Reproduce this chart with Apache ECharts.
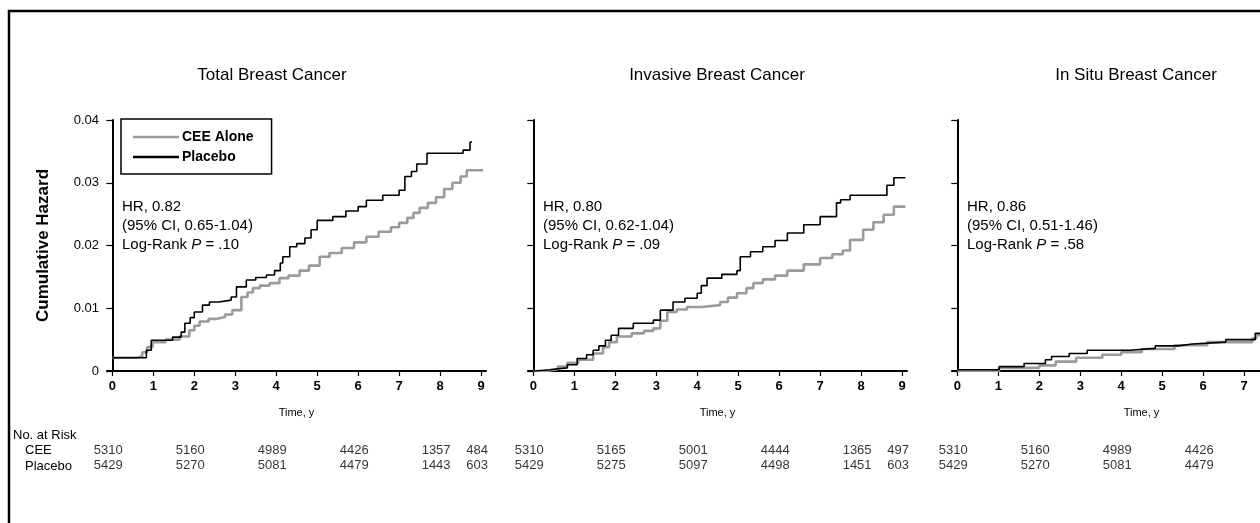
<!DOCTYPE html>
<html>
<head>
<meta charset="utf-8">
<script src="https://cdn.jsdelivr.net/npm/echarts@6/dist/echarts.min.js"></script>
<style>
html,body{margin:0;padding:0;background:#fff;overflow:hidden;width:1260px;height:523px;}
#chart{width:1340px;height:523px;}
</style>
</head>
<body>
<div id="chart"></div>
<script>
// ---------- DATA ----------
const panelTitles = ['Total Breast Cancer', 'Invasive Breast Cancer', 'In Situ Breast Cancer'];
const seriesNames = ['CEE Alone', 'Placebo'];
const xTickValues = [0, 1, 2, 3, 4, 5, 6, 7, 8, 9];
const yTickValues = [0, 0.01, 0.02, 0.03, 0.04];
const hrText = ['HR, 0.82', 'HR, 0.80', 'HR, 0.86'];
const ciText = ['(95% CI, 0.65-1.04)', '(95% CI, 0.62-1.04)', '(95% CI, 0.51-1.46)'];
const pText = ['.10', '.09', '.58'];

// cumulative hazard step points [year, hazard]
const totalCEE = [[0,0.0021],[0.58,0.0023],[0.73,0.003],[0.85,0.0038],[0.98,0.0046],[1.3,0.005],[1.64,0.0055],[1.88,0.0065],[2.0,0.0072],[2.13,0.0079],[2.35,0.0083],[2.53,0.0086],[2.75,0.009],[2.93,0.0097],[3.15,0.0118],[3.3,0.0125],[3.43,0.0132],[3.6,0.0136],[3.84,0.014],[4.08,0.0148],[4.3,0.0152],[4.57,0.016],[4.8,0.0168],[5.06,0.0182],[5.3,0.0188],[5.6,0.0196],[5.9,0.0205],[6.2,0.0214],[6.5,0.0222],[6.8,0.0229],[7.0,0.0236],[7.2,0.0244],[7.35,0.0252],[7.5,0.026],[7.7,0.0268],[7.9,0.0277],[8.1,0.029],[8.3,0.03],[8.5,0.031],[8.65,0.032],[9.05,0.032]];
const totalPlacebo = [[0,0.0021],[0.83,0.0033],[0.95,0.0049],[1.47,0.0054],[1.68,0.0062],[1.77,0.0076],[1.9,0.0085],[2.0,0.0094],[2.2,0.0105],[2.37,0.011],[2.6,0.0113],[2.9,0.0118],[3.03,0.0134],[3.27,0.0145],[3.5,0.0149],[3.76,0.0153],[3.96,0.016],[4.1,0.0172],[4.16,0.0182],[4.33,0.0198],[4.5,0.0203],[4.7,0.0212],[4.85,0.0225],[5.0,0.024],[5.38,0.0246],[5.7,0.0255],[6.0,0.0262],[6.2,0.0272],[6.6,0.028],[7.0,0.0288],[7.14,0.031],[7.3,0.0318],[7.43,0.033],[7.68,0.0347],[8.56,0.0352],[8.73,0.0365],[8.78,0.0365]];
const invasiveCEE = [[0,0],[0.3,0.0003],[0.6,0.0007],[0.83,0.0013],[1.1,0.0018],[1.46,0.0028],[1.7,0.0038],[1.85,0.0046],[2.04,0.0055],[2.4,0.006],[2.7,0.0064],[2.93,0.0068],[3.1,0.008],[3.27,0.0094],[3.5,0.0098],[3.75,0.0102],[4.1,0.0105],[4.56,0.011],[4.75,0.0117],[4.97,0.0124],[5.2,0.0132],[5.37,0.014],[5.6,0.0146],[5.9,0.0152],[6.2,0.016],[6.6,0.017],[7.0,0.018],[7.3,0.0186],[7.55,0.0192],[7.73,0.0209],[8.05,0.0225],[8.3,0.0237],[8.55,0.0249],[8.8,0.0262],[9.08,0.0262]];
const invasivePlacebo = [[0,0],[0.05,0.0002],[0.4,0.0005],[0.83,0.001],[1.07,0.002],[1.3,0.0026],[1.46,0.0033],[1.6,0.004],[1.76,0.0049],[1.9,0.0057],[2.08,0.0068],[2.44,0.0076],[2.93,0.0081],[3.1,0.0097],[3.41,0.011],[3.7,0.0116],[4.0,0.0124],[4.1,0.0136],[4.24,0.0148],[4.6,0.0154],[4.97,0.016],[5.05,0.0182],[5.3,0.019],[5.6,0.0198],[5.9,0.0208],[6.2,0.022],[6.6,0.0233],[7.0,0.0246],[7.4,0.0268],[7.5,0.0273],[7.73,0.028],[8.63,0.0296],[8.8,0.0308],[9.08,0.0308]];
const inSituCEE = [[0,0],[1.02,0.0005],[2.0,0.0009],[2.4,0.0015],[2.9,0.0021],[3.54,0.0026],[4.0,0.003],[4.5,0.0035],[5.3,0.0041],[6.1,0.0046],[7.2,0.0052],[7.3,0.0057],[7.6,0.0057]];
const inSituPlacebo = [[0,0.0002],[1.02,0.0007],[1.63,0.0012],[2.15,0.0018],[2.3,0.0023],[2.73,0.0028],[3.17,0.0033],[4.2,0.0036],[4.83,0.004],[5.4,0.0043],[5.73,0.0046],[6.55,0.005],[7.27,0.006],[7.6,0.006]];

// number at risk
const riskYears = [0, 2, 4, 6, 8, 9];
const riskRows = ['CEE', 'Placebo'];
const totalRiskCEE = [5310, 5160, 4989, 4426, 1357, 484];
const totalRiskPlacebo = [5429, 5270, 5081, 4479, 1443, 603];
const invasiveRiskCEE = [5310, 5165, 5001, 4444, 1365, 497];
const invasiveRiskPlacebo = [5429, 5275, 5097, 4498, 1451, 603];
const inSituRiskCEE = [5310, 5160, 4989, 4426];
const inSituRiskPlacebo = [5429, 5270, 5081, 4479];

// ---------- LAYOUT ----------
const FONT = '"Liberation Sans", Arial, Helvetica, sans-serif';
const panelLeft = [107, 528, 952];
const panelWidth = 379;
const panelTop = 120;
const panelHeight = 251;
const xMin = -0.13, xMax = 9.12;
const titleCenter = [272, 717, 1136];

const curves = [[totalCEE, totalPlacebo], [invasiveCEE, invasivePlacebo], [inSituCEE, inSituPlacebo]];
const risks = [[totalRiskCEE, totalRiskPlacebo], [invasiveRiskCEE, invasiveRiskPlacebo], [inSituRiskCEE, inSituRiskPlacebo]];

const grid = [], xAxis = [], yAxis = [], series = [], graphic = [];

for (let p = 0; p < 3; p++) {
  grid.push({left: panelLeft[p], top: panelTop, width: panelWidth, height: panelHeight});
  xAxis.push({
    type: 'value', gridIndex: p, min: xMin, max: xMax,
    name: 'Time, y', nameLocation: 'middle', nameGap: 36,
    nameTextStyle: {fontFamily: FONT, fontSize: 11, color: '#000'},
    axisLine: {show: true, lineStyle: {color: '#000', width: 2}},
    axisTick: {show: true, length: 5, lineStyle: {color: '#000', width: 1.2}, customValues: xTickValues},
    axisLabel: {show: true, color: '#000', fontFamily: FONT, fontSize: 13, fontWeight: 'bold', margin: 9, customValues: xTickValues, formatter: v => String(Math.round(v))},
    splitLine: {show: false}
  });
  yAxis.push({
    type: 'value', gridIndex: p, min: 0, max: 0.04, interval: 0.01,
    name: p === 0 ? 'Cumulative Hazard' : '', nameLocation: 'middle', nameGap: 55,
    nameTextStyle: {fontFamily: FONT, fontSize: 17, fontWeight: 'bold', color: '#000'},
    axisLine: {show: true, lineStyle: {color: '#000', width: 2}},
    axisTick: {show: true, length: 6, lineStyle: {color: '#000', width: 1.2}},
    axisLabel: {show: p === 0, color: '#000', fontFamily: FONT, fontSize: 13, margin: 8,
      formatter: v => v === 0 ? '0' : v.toFixed(2)},
    splitLine: {show: false}
  });
  series.push({
    name: seriesNames[0], type: 'line', step: 'end', xAxisIndex: p, yAxisIndex: p,
    data: curves[p][0], showSymbol: false, symbol: 'none',
    lineStyle: {color: '#9b9b9b', width: 2.6}, itemStyle: {color: '#9b9b9b'}, z: 3
  });
  series.push({
    name: seriesNames[1], type: 'line', step: 'end', xAxisIndex: p, yAxisIndex: p,
    data: curves[p][1], showSymbol: false, symbol: 'none',
    lineStyle: {color: '#000', width: 1.6}, itemStyle: {color: '#000'}, z: 4
  });
}

// at-risk table grids
for (let p = 0; p < 3; p++) {
  const gi = 3 + p;
  grid.push({left: panelLeft[p], top: 443, width: panelWidth, height: 30});
  xAxis.push({type: 'value', gridIndex: gi, min: xMin, max: xMax, show: false});
  yAxis.push({type: 'category', gridIndex: gi, data: ['Placebo', 'CEE'], show: false});
  for (let r = 0; r < 2; r++) {
    const vals = risks[p][r];
    series.push({
      type: 'scatter', xAxisIndex: gi, yAxisIndex: gi, symbolSize: 0, clip: false, silent: true,
      data: vals.map((v, i) => [riskYears[i], riskRows[r], v]),
      label: {show: true, position: 'inside', offset: [-4, 0], color: '#000', fontFamily: FONT, fontSize: 13,
        formatter: d => String(d.value[2])}
    });
  }
}

// titles and annotations
for (let p = 0; p < 3; p++) {
  graphic.push({type: 'text', x: titleCenter[p], y: 75, style: {text: panelTitles[p], align: 'center', verticalAlign: 'middle',
    fontFamily: FONT, fontSize: 17, fill: '#000'}});
  const ax = panelLeft[p] + 15;
  graphic.push({type: 'text', x: ax, y: 207, style: {text: hrText[p], verticalAlign: 'middle', fontFamily: FONT, fontSize: 15, fill: '#000'}});
  graphic.push({type: 'text', x: ax, y: 226, style: {text: ciText[p], verticalAlign: 'middle', fontFamily: FONT, fontSize: 15, fill: '#000'}});
  graphic.push({type: 'text', x: ax, y: 245, style: {
    text: '{n|Log-Rank }{i|P}{n| = ' + pText[p] + '}', verticalAlign: 'middle',
    rich: {n: {fontFamily: FONT, fontSize: 15, color: '#000'}, i: {fontFamily: FONT, fontSize: 15, fontStyle: 'italic', color: '#000'}}
  }});
}
graphic.push({type: 'text', x: 13, y: 435, style: {text: 'No. at Risk', verticalAlign: 'middle', fontFamily: FONT, fontSize: 13, fill: '#000'}});
graphic.push({type: 'text', x: 25, y: 450, style: {text: riskRows[0], verticalAlign: 'middle', fontFamily: FONT, fontSize: 13, fill: '#000'}});
graphic.push({type: 'text', x: 25, y: 466, style: {text: riskRows[1], verticalAlign: 'middle', fontFamily: FONT, fontSize: 13, fill: '#000'}});
graphic.push({type: 'polyline', shape: {points: [[9, 523], [9, 11], [1340, 11]]}, style: {stroke: '#000', lineWidth: 2.5, fill: null}});

const chart = echarts.init(document.getElementById('chart'));
chart.setOption({
  animation: false,
  backgroundColor: '#fff',
  grid, xAxis, yAxis, series, graphic,
  legend: {
    left: 121, top: 119, orient: 'vertical',
    data: [{name: seriesNames[0], icon: 'rect'}, {name: seriesNames[1], icon: 'rect'}],
    itemWidth: 46, itemHeight: 2.5, itemGap: 6,
    borderColor: '#000', borderWidth: 1.5, borderRadius: 0,
    padding: [11, 18, 10, 12],
    textStyle: {fontFamily: FONT, fontSize: 14, fontWeight: 'bold', color: '#000', padding: [0, 0, 0, -2]},
    selectedMode: false
  }
});
</script>
</body>
</html>
